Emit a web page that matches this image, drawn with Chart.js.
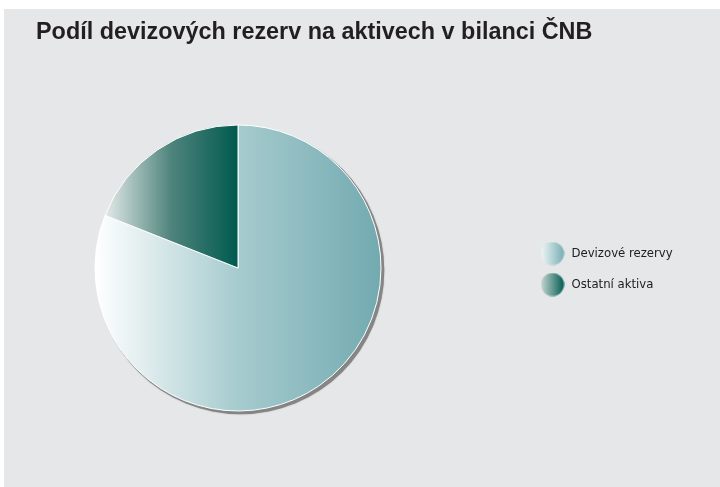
<!DOCTYPE html>
<html lang="cs">
<head>
<meta charset="utf-8">
<title>Podíl devizových rezerv na aktivech v bilanci ČNB</title>
<script src="https://cdn.jsdelivr.net/npm/chart.js@4/dist/chart.umd.min.js"></script>
<style>
  html, body { margin: 0; padding: 0; background: #ffffff; }
  #panel {
    position: absolute;
    left: 4px;
    top: 9px;
    width: 716px;
    height: 478px;
    background: #e6e7e8;
  }
</style>
</head>
<body>
<div id="panel"><canvas id="graf"></canvas></div>
<script>
// Data
const kategorie = ['Devizové rezervy', 'Ostatní aktiva'];
const podily = [81, 19];

// Barvy přechodů (zleva doprava)
const prechody = [
  ['#ffffff', '#a6cbce', '#72aab0'],
  ['#e2eae8', '#4e837c', '#005a4f'],
];
const legendaBarvy = [
  ['#f2f7f7', '#74adb3'],
  ['#c9d7d4', '#005a50'],
];

const legendFont = { family: "'Liberation Sans Narrow', 'DejaVu Sans Condensed', sans-serif", size: 13 };
const legendPadding = 18;
const legendBox = 25;
const legendLeft = 518;   // levý okraj legendy
const pieRight = 436;     // pravý okraj plochy koláče

// šířka legendy podle textu (Chart.js přidává 10 px)
const mctx = document.createElement('canvas').getContext('2d');
mctx.font = legendFont.size + 'px ' + legendFont.family;
const textW = Math.max(...kategorie.map(t => mctx.measureText(t).width));
const legendWidth = 10 + legendPadding + legendBox + legendFont.size / 2 + textW;
const padRight = 716 - legendLeft - legendWidth;

// kolečka do legendy
function kolecko(barvy) {
  const c = document.createElement('canvas');
  c.width = 24;
  c.height = 24;
  const g = c.getContext('2d');
  const grad = g.createLinearGradient(0, 0, 24, 0);
  grad.addColorStop(0, barvy[0]);
  grad.addColorStop(1, barvy[1]);
  g.fillStyle = grad;
  g.beginPath();
  g.arc(12, 12, 11.5, 0, Math.PI * 2);
  g.fill();
  return c;
}
const kolecka = legendaBarvy.map(kolecko);

function prechodVysece(context) {
  const chart = context.chart;
  const area = chart.chartArea;
  if (!area) return prechody[context.dataIndex][2];
  const i = context.dataIndex;
  const cx = (area.left + area.right) / 2;
  const r = (Math.min(area.width, area.height) - 1) / 2;
  const total = podily.reduce((s, v) => s + v, 0);
  let start = -Math.PI / 2;
  for (let k = 0; k < i; k++) start += podily[k] / total * Math.PI * 2;
  const end = start + podily[i] / total * Math.PI * 2;
  const xs = [cx, cx + r * Math.cos(start), cx + r * Math.cos(end)];
  [0, Math.PI].forEach(a => { if (a > start && a < end) xs.push(cx + r * Math.cos(a)); });
  const grad = chart.ctx.createLinearGradient(Math.min(...xs), 0, Math.max(...xs), 0);
  grad.addColorStop(0, prechody[i][0]);
  grad.addColorStop(0.5, prechody[i][1]);
  grad.addColorStop(1, prechody[i][2]);
  return grad;
}

// mezera mezi koláčem a legendou
const mezera = {
  id: 'mezera',
  beforeInit(chart) {
    Chart.layouts.addBox(chart, {
      position: 'right',
      weight: 0,
      fullSize: false,
      options: {},
      left: 0, top: 0, right: 0, bottom: 0, width: 0, height: 0,
      isHorizontal() { return false; },
      update(maxWidth, maxHeight) {
        this.width = legendLeft - pieRight;
        this.height = maxHeight;
      },
      draw() {},
    });
  },
};

// stín pod koláčem
const stin = {
  id: 'stin',
  beforeDatasetsDraw(chart) {
    const arc = chart.getDatasetMeta(0).data[0];
    if (!arc) return;
    const ctx = chart.ctx;
    ctx.save();
    ctx.fillStyle = '#858585';
    ctx.shadowColor = 'rgba(0,0,0,0.25)';
    ctx.shadowBlur = 1.5;
    ctx.beginPath();
    ctx.arc(arc.x + 2.5, arc.y + 2.5, arc.outerRadius + 0.8, 0, Math.PI * 2);
    ctx.fill();
    ctx.restore();
  },
};

new Chart(document.getElementById('graf'), {
  type: 'pie',
  data: {
    labels: kategorie,
    datasets: [{
      data: podily,
      backgroundColor: prechodVysece,
      borderColor: '#ffffff',
      borderWidth: 1,
      hoverOffset: 0,
    }],
  },
  options: {
    responsive: true,
    maintainAspectRatio: false,
    animation: false,
    layout: {
      padding: { left: 32, right: padRight, top: 0, bottom: 75.5 },
    },
    plugins: {
      title: {
        display: true,
        text: 'Podíl devizových rezerv na aktivech v bilanci ČNB',
        align: 'start',
        color: '#231f20',
        font: { family: "'Liberation Sans', Arial, sans-serif", size: 23.4, weight: 'bold' },
        padding: { top: 10, bottom: 77.4 },
      },
      legend: {
        position: 'right',
        fullSize: false,
        title: { display: true, text: '', padding: 0, font: { size: 1.7 } },
        labels: {
          usePointStyle: true,
          pointStyleWidth: legendBox,
          padding: legendPadding,
          color: '#1d1d1b',
          font: legendFont,
          generateLabels(chart) {
            const zaklad = Chart.overrides.pie.plugins.legend.labels.generateLabels(chart);
            return zaklad.map((item, i) => ({ ...item, pointStyle: kolecka[i] }));
          },
        },
        onClick: null,
      },
      tooltip: { enabled: false },
    },
  },
  plugins: [mezera, stin],
});
</script>
</body>
</html>
